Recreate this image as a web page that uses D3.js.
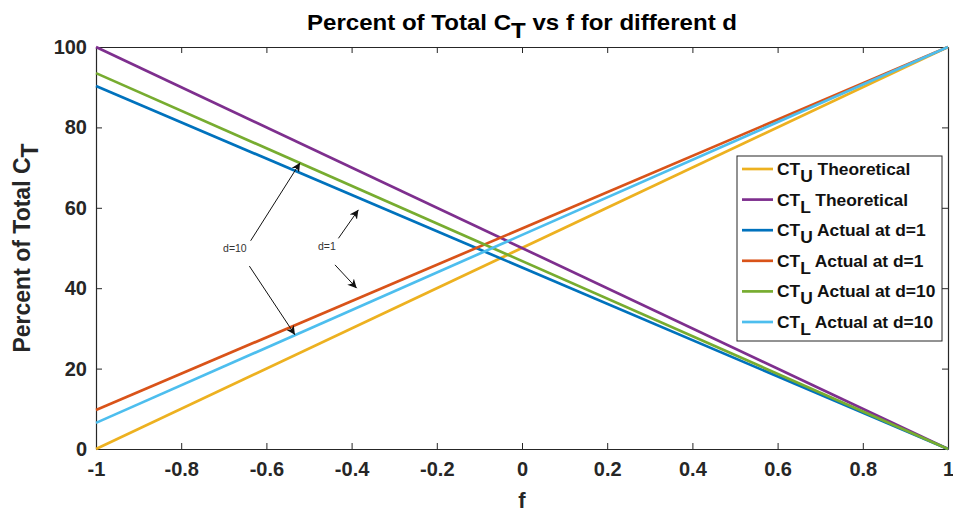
<!DOCTYPE html>
<html><head><meta charset="utf-8">
<script src="https://cdn.jsdelivr.net/npm/d3@7"></script>
<style>
body{margin:0;background:#fff;}
svg{display:block;font-family:"Liberation Sans",Arial,Helvetica,sans-serif;}
</style></head>
<body>
<div id="chart"></div>
<script>
// ---- data ----
const fDomain = [-1, 1];
const fPoints = [-1, 1];
const seriesNames = ["CTU Theoretical","CTL Theoretical","CTU Actual at d=1","CTL Actual at d=1","CTU Actual at d=10","CTL Actual at d=10"];
const seriesMain = ["CT","CT","CT","CT","CT","CT"];
const seriesSub = ["U","L","U","L","U","L"];
const seriesRest = [" Theoretical"," Theoretical"," Actual at d=1"," Actual at d=1"," Actual at d=10"," Actual at d=10"];
const ctuTheoretical = [0, 100];
const ctlTheoretical = [100, 0];
const ctuActualD1 = [90.3, 0];
const ctlActualD1 = [9.7, 100];
const ctuActualD10 = [93.5, 0];
const ctlActualD10 = [6.5, 100];
const seriesValues = [ctuTheoretical, ctlTheoretical, ctuActualD1, ctlActualD1, ctuActualD10, ctlActualD10];
const seriesColors = ["#EDB120","#7E2F8E","#0072BD","#D95319","#77AC30","#4DBEEE"];
const xTicks = [-1,-0.8,-0.6,-0.4,-0.2,0,0.2,0.4,0.6,0.8,1];
const xTickLabels = ["-1","-0.8","-0.6","-0.4","-0.2","0","0.2","0.4","0.6","0.8","1"];
const yTicks = [0,20,40,60,80,100];
const yTickLabels = ["0","20","40","60","80","100"];
const annotTexts = [{t:"d=10", f:-0.674, v:49.6},{t:"d=1", f:-0.458, v:50.1}];
const annotArrows = [
  [-0.637, 51.8, -0.521, 71.2],
  [-0.640, 45.5, -0.533, 28.4],
  [-0.431, 52.4, -0.384, 59.5],
  [-0.439, 45.8, -0.388, 40.0]
];

// ---- layout ----
const W = 953, H = 516;
const m = {left:96, right:5, top:47, bottom:67};
const iw = W - m.left - m.right, ih = H - m.top - m.bottom;
const axisColor = "#262626";

const svg = d3.select("#chart").append("svg").attr("width", W).attr("height", H);
svg.append("defs").append("marker")
  .attr("id","arr").attr("viewBox","0 0 10 10").attr("refX",10).attr("refY",5)
  .attr("markerWidth",9).attr("markerHeight",9).attr("markerUnits","userSpaceOnUse")
  .attr("orient","auto")
  .append("path").attr("d","M0,0 L10,5 L0,10 L3,5 Z").attr("fill","#111");

const g = svg.append("g").attr("transform",`translate(${m.left},${m.top})`);
const x = d3.scaleLinear().domain(fDomain).range([0, iw]);
const y = d3.scaleLinear().domain([0,100]).range([ih, 0]);

const tickLen = 6;
const xb = g.append("g").attr("transform",`translate(0,${ih})`)
  .call(d3.axisBottom(x).tickValues(xTicks).tickFormat((d,i)=>xTickLabels[i]).tickSizeInner(-tickLen).tickSizeOuter(0).tickPadding(13));
const xt = g.append("g")
  .call(d3.axisTop(x).tickValues(xTicks).tickFormat("").tickSizeInner(-tickLen).tickSizeOuter(0));
const yl = g.append("g")
  .call(d3.axisLeft(y).tickValues(yTicks).tickFormat((d,i)=>yTickLabels[i]).tickSizeInner(-tickLen).tickSizeOuter(0).tickPadding(9));
const yr = g.append("g").attr("transform",`translate(${iw},0)`)
  .call(d3.axisRight(y).tickValues(yTicks).tickFormat("").tickSizeInner(-tickLen).tickSizeOuter(0));
[xb,xt,yl,yr].forEach(a=>{
  a.selectAll("path").attr("stroke",axisColor).attr("stroke-width",1.2);
  a.selectAll("line").attr("stroke",axisColor).attr("stroke-width",1);
  a.selectAll("text").attr("fill","#262626").attr("font-size",20).attr("font-weight","bold")
   .attr("font-family","'Liberation Sans',Arial,sans-serif");
});

const line = d3.line().x(d=>x(d[0])).y(d=>y(d[1]));
svg.append("clipPath").attr("id","clip").append("rect")
  .attr("x",-2).attr("y",-2).attr("width",iw+4).attr("height",ih+4);
const lg = g.append("g").attr("clip-path","url(#clip)");
seriesValues.forEach((vals,i)=>{
  lg.append("path").datum(fPoints.map((f,j)=>[f, vals[j]]))
    .attr("d",line).attr("fill","none").attr("stroke",seriesColors[i])
    .attr("stroke-width",2.7);
});

annotArrows.forEach(a=>{
  g.append("line").attr("x1",x(a[0])).attr("y1",y(a[1])).attr("x2",x(a[2])).attr("y2",y(a[3]))
   .attr("stroke","#111").attr("stroke-width",1).attr("marker-end","url(#arr)");
});
annotTexts.forEach(a=>{
  g.append("text").attr("x",x(a.f)).attr("y",y(a.v)).attr("text-anchor","middle")
   .attr("dominant-baseline","middle").attr("font-size",10.5).attr("fill","#333").text(a.t);
});

// legend
const lx = 737 - m.left, ly = 156 - m.top, lw = 205, lh = 185;
const leg = g.append("g").attr("transform",`translate(${lx},${ly})`);
leg.append("rect").attr("width",lw).attr("height",lh).attr("fill","#fff")
  .attr("stroke",axisColor).attr("stroke-width",1);
seriesNames.forEach((n,i)=>{
  const yy = 13 + i*30.6;
  leg.append("line").attr("x1",5).attr("x2",36).attr("y1",yy).attr("y2",yy)
    .attr("stroke",seriesColors[i]).attr("stroke-width",2.7);
  const t = leg.append("text").attr("x",40).attr("y",yy+6).attr("font-size",17.4)
    .attr("font-weight","bold").attr("fill","#111");
  t.append("tspan").text(seriesMain[i]);
  t.append("tspan").attr("dy",7).text(seriesSub[i]);
  t.append("tspan").attr("dy",-7).text(seriesRest[i]);
});

// title
const title = svg.append("g").attr("transform",`translate(${m.left + iw/2},30) scale(1.12,1)`)
  .append("text").attr("x",0).attr("y",0).attr("text-anchor","middle")
  .attr("font-size",21.5).attr("font-weight","bold").attr("fill","#000");
title.append("tspan").text("Percent of Total C");
title.append("tspan").attr("dy",8).text("T");
title.append("tspan").attr("dy",-8).text(" vs f for different d");

svg.append("text").attr("x", m.left + iw/2).attr("y", 508).attr("text-anchor","middle")
  .attr("font-size",22).attr("font-weight","bold").attr("fill","#262626").text("f");

const ylab = svg.append("text").attr("transform",`translate(30,${m.top+ih/2}) rotate(-90)`)
  .attr("text-anchor","middle").attr("font-size",23).attr("font-weight","bold").attr("fill","#262626");
ylab.append("tspan").text("Percent of Total C");
ylab.append("tspan").attr("dy",8).text("T");
</script>
</body></html>
